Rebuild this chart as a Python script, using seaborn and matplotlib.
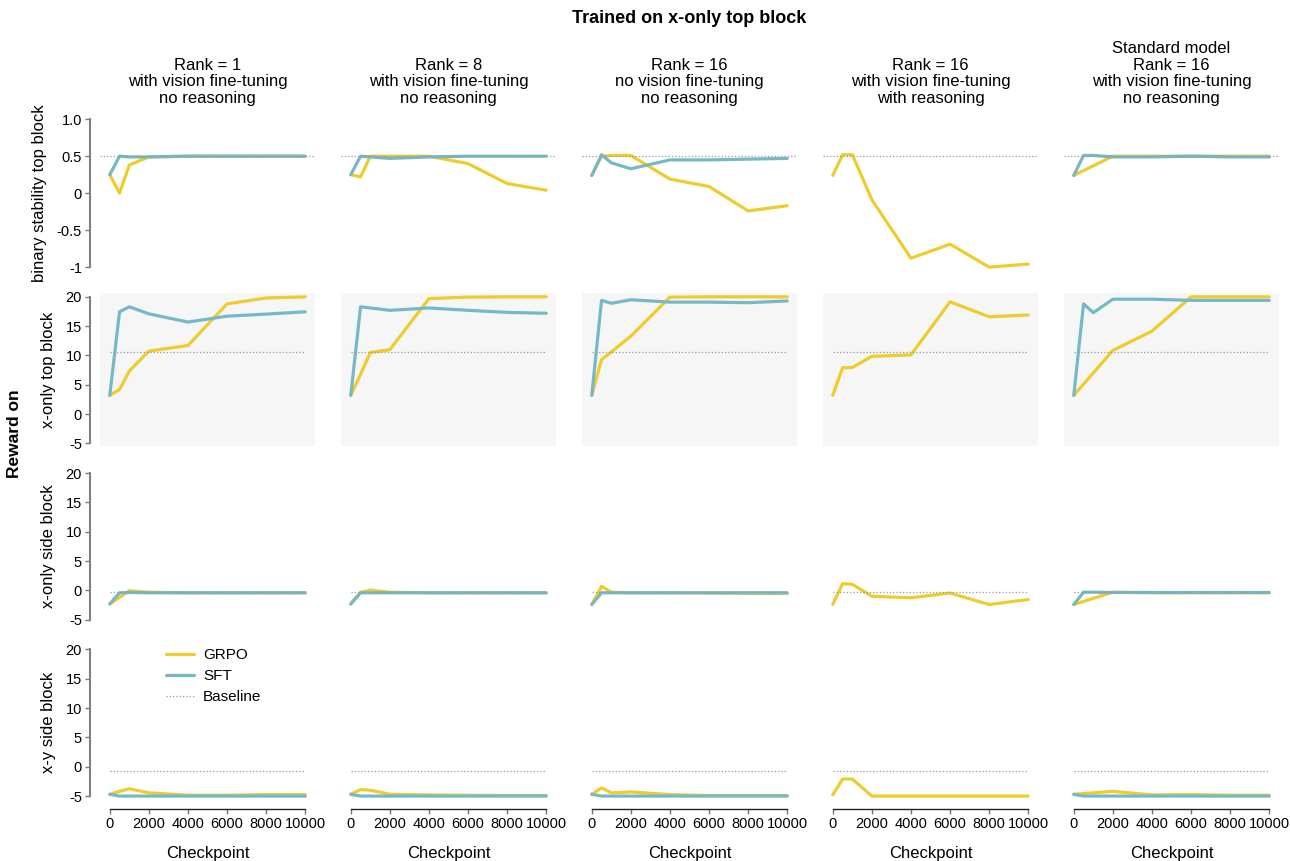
import matplotlib
matplotlib.use("Agg")
import matplotlib.pyplot as plt
from matplotlib.lines import Line2D
import numpy as np
import pandas as pd
import seaborn as sns

# ---- data -------------------------------------------------------------
checkpoints = [0, 500, 1000, 2000, 4000, 6000, 8000, 10000]

configs = [
    "Rank = 1\nwith vision fine-tuning\nno reasoning",
    "Rank = 8\nwith vision fine-tuning\nno reasoning",
    "Rank = 16\nno vision fine-tuning\nno reasoning",
    "Rank = 16\nwith vision fine-tuning\nwith reasoning",
    "Standard model\nRank = 16\nwith vision fine-tuning\nno reasoning",
]

metrics = [
    "binary stability top block",
    "x-only top block",
    "x-only side block",
    "x-y side block",
]

baselines = [0.5, 10.65, -0.35, -0.75]

N = None
grpo_stability = [
    [0.25, 0.00, 0.38, 0.49, 0.50, 0.50, 0.50, 0.50],
    [0.25, 0.22, 0.50, 0.50, 0.50, 0.40, 0.13, 0.04],
    [0.24, 0.50, 0.51, 0.51, 0.19, 0.09, -0.24, -0.17],
    [0.24, 0.52, 0.52, -0.09, -0.88, -0.69, -1.00, -0.96],
    [0.24, N, N, 0.50, 0.50, 0.50, 0.50, 0.50],
]
sft_stability = [
    [0.25, 0.50, 0.49, 0.49, 0.50, 0.50, 0.50, 0.50],
    [0.25, 0.50, 0.49, 0.47, 0.49, 0.50, 0.50, 0.50],
    [0.24, 0.52, 0.41, 0.33, 0.45, 0.45, 0.46, 0.47],
    [N, N, N, N, N, N, N, N],
    [0.24, 0.51, 0.51, 0.49, 0.49, 0.50, 0.49, 0.49],
]

grpo_xonly_top = [
    [3.2, 4.2, 7.35, 10.75, 11.7, 18.8, 19.8, 20.0],
    [3.2, 6.8, 10.5, 11.0, 19.7, 19.95, 20.0, 20.0],
    [3.2, 9.3, 10.6, 13.3, 19.95, 20.0, 20.0, 20.0],
    [3.2, 7.9, 7.95, 9.85, 10.1, 19.15, 16.6, 16.9],
    [3.2, N, N, 10.87, 14.15, 20.0, 20.0, 20.0],
]
sft_xonly_top = [
    [3.2, 17.45, 18.3, 17.1, 15.7, 16.7, 17.05, 17.45],
    [3.2, 18.3, 18.1, 17.7, 18.1, 17.7, 17.35, 17.2],
    [3.2, 19.4, 18.9, 19.5, 19.1, 19.1, 19.0, 19.3],
    [N, N, N, N, N, N, N, N],
    [3.2, 18.8, 17.3, 19.6, 19.6, 19.4, 19.4, 19.4],
]

grpo_xonly_side = [
    [-2.3, -1.2, -0.05, -0.3, -0.4, -0.4, -0.4, -0.4],
    [-2.3, -0.3, 0.05, -0.3, -0.4, -0.4, -0.4, -0.4],
    [-2.4, 0.7, -0.3, -0.4, -0.4, -0.45, -0.5, -0.5],
    [-2.4, 1.15, 1.05, -1.0, -1.25, -0.45, -2.4, -1.55],
    [-2.4, N, N, -0.3, -0.4, -0.4, -0.4, -0.4],
]
sft_xonly_side = [
    [-2.3, -0.4, -0.35, -0.4, -0.4, -0.4, -0.4, -0.4],
    [-2.3, -0.4, -0.4, -0.4, -0.4, -0.4, -0.4, -0.4],
    [-2.4, -0.4, -0.4, -0.4, -0.4, -0.4, -0.4, -0.4],
    [N, N, N, N, N, N, N, N],
    [-2.4, -0.3, -0.3, -0.35, -0.35, -0.35, -0.35, -0.35],
]

grpo_xy_side = [
    [-4.7, -4.2, -3.75, -4.45, -4.85, -4.85, -4.75, -4.75],
    [-4.7, -3.9, -4.0, -4.7, -4.8, -4.85, -4.9, -4.9],
    [-4.7, -3.6, -4.45, -4.3, -4.75, -4.9, -4.9, -4.9],
    [-4.8, -2.1, -2.1, -5.0, -5.0, -5.0, -5.0, -5.0],
    [-4.7, N, N, -4.2, -4.8, -4.75, -4.85, -4.85],
]
sft_xy_side = [
    [-4.7, -5.0, -5.0, -5.0, -5.0, -5.0, -5.0, -5.0],
    [-4.7, -5.0, -5.0, -5.0, -5.0, -5.0, -5.0, -5.0],
    [-4.7, -5.0, -5.0, -5.0, -5.0, -5.0, -5.0, -5.0],
    [N, N, N, N, N, N, N, N],
    [-4.7, -5.0, -5.0, -5.0, -5.0, -5.0, -5.0, -5.0],
]

grpo_rows = [grpo_stability, grpo_xonly_top, grpo_xonly_side, grpo_xy_side]
sft_rows = [sft_stability, sft_xonly_top, sft_xonly_side, sft_xy_side]

# ---- long-form table ----------------------------------------------------
records = []
for r, metric in enumerate(metrics):
    for c in range(len(configs)):
        for method, rows in (("GRPO", grpo_rows), ("SFT", sft_rows)):
            for x, y in zip(checkpoints, rows[r][c]):
                if y is not None:
                    records.append(dict(row=r, col=c, method=method,
                                        checkpoint=x, reward=y))
df = pd.DataFrame(records)

palette = {"GRPO": "#EECC2E", "SFT": "#77B8C7"}

# ---- style --------------------------------------------------------------
sns.set_theme(style="ticks")
plt.rcParams["font.family"] = ["Liberation Sans", "DejaVu Sans"]
plt.rcParams["axes.unicode_minus"] = False
plt.rcParams["text.color"] = "black"
plt.rcParams["axes.labelcolor"] = "black"
plt.rcParams["xtick.labelcolor"] = "black"
plt.rcParams["ytick.labelcolor"] = "black"

fig, axes = plt.subplots(
    4, 5, figsize=(12.9, 8.61), dpi=100,
    gridspec_kw=dict(left=100 / 1290, right=1279 / 1290,
                     top=1 - 117 / 861, bottom=1 - 799 / 861,
                     wspace=0.121, hspace=0.152),
)

ylims = [(-1.04, 1.03), (-5.5, 20.6), (-5.5, 20.6), (-5.5, 20.6)]
yticks = [[-1, -0.5, 0, 0.5, 1.0], [-5, 0, 5, 10, 15, 20],
          [-5, 0, 5, 10, 15, 20], [-5, 0, 5, 10, 15, 20]]
yticklabels = [["-1", "-0.5", "0", "0.5", "1.0"],
               ["-5", "0", "5", "10", "15", "20"],
               ["-5", "0", "5", "10", "15", "20"],
               ["-5", "0", "5", "10", "15", "20"]]
xticks = [0, 2000, 4000, 6000, 8000, 10000]

for r in range(4):
    for c in range(5):
        ax = axes[r, c]
        sub = df[(df.row == r) & (df.col == c)]
        ax.set_facecolor("#F6F6F6" if r == 1 else "white")
        sns.lineplot(data=sub, x="checkpoint", y="reward", hue="method",
                     hue_order=["GRPO", "SFT"], palette=palette,
                     linewidth=2.3, legend=False, ax=ax, zorder=2)
        if r == 0:
            ax.axhline(baselines[r], color="#999999", lw=0.9, ls=":", zorder=3)
        else:
            ax.hlines(baselines[r], checkpoints[0], checkpoints[-1],
                      color="#999999", lw=0.9, ls=":", zorder=3)
        ax.set_xlim(-500, 10500)
        ax.set_ylim(*ylims[r])
        ax.set_yticks(yticks[r])
        ax.set_yticklabels(yticklabels[r])
        ax.set_xticks(xticks)
        ax.set_xticklabels([str(t) for t in xticks])
        ax.tick_params(axis="both", labelsize=10.5, color="#777777",
                       length=3.5, width=1, pad=2)
        ax.set_xlabel("")
        ax.set_ylabel("")

        sns.despine(ax=ax, offset=7.5, trim=True,
                    left=(c != 0), bottom=(r != 3))
        ax.spines["left"].set_color("#808080")
        ax.spines["left"].set_linewidth(1.5)
        ax.spines["bottom"].set_color("#222222")
        ax.spines["bottom"].set_linewidth(1.0)
        if c != 0:
            ax.tick_params(axis="y", left=False, labelleft=False)
        if r != 3:
            ax.tick_params(axis="x", bottom=False, labelbottom=False)
        else:
            ax.set_xlabel("Checkpoint", fontsize=12, labelpad=11)
        if c == 0:
            ax.set_ylabel(metrics[r], fontsize=12, labelpad=7)
        if r == 0:
            ax.set_title(configs[c], fontsize=12, pad=10, linespacing=1.15)

# legend inside the bottom-left panel
handles = [
    Line2D([], [], color=palette["GRPO"], lw=2.3),
    Line2D([], [], color=palette["SFT"], lw=2.3),
    Line2D([], [], color="#999999", lw=0.9, ls=":"),
]
axes[3, 0].legend(handles, ["GRPO", "SFT", "Baseline"], frameon=False,
                  loc="upper left", bbox_to_anchor=(0.245, 1.075),
                  fontsize=11, handlelength=1.8, handletextpad=0.6,
                  labelspacing=0.45)

fig.suptitle("Trained on x-only top block", fontsize=13, fontweight="bold",
             x=(100 + 1279) / 2 / 1290, y=1 - 10 / 861)
fig.text(15 / 1290, 1 - 434 / 861, "Reward on", rotation=90, fontsize=12.5,
         fontweight="bold", ha="center", va="center")

fig.savefig("out.png", dpi=100)
